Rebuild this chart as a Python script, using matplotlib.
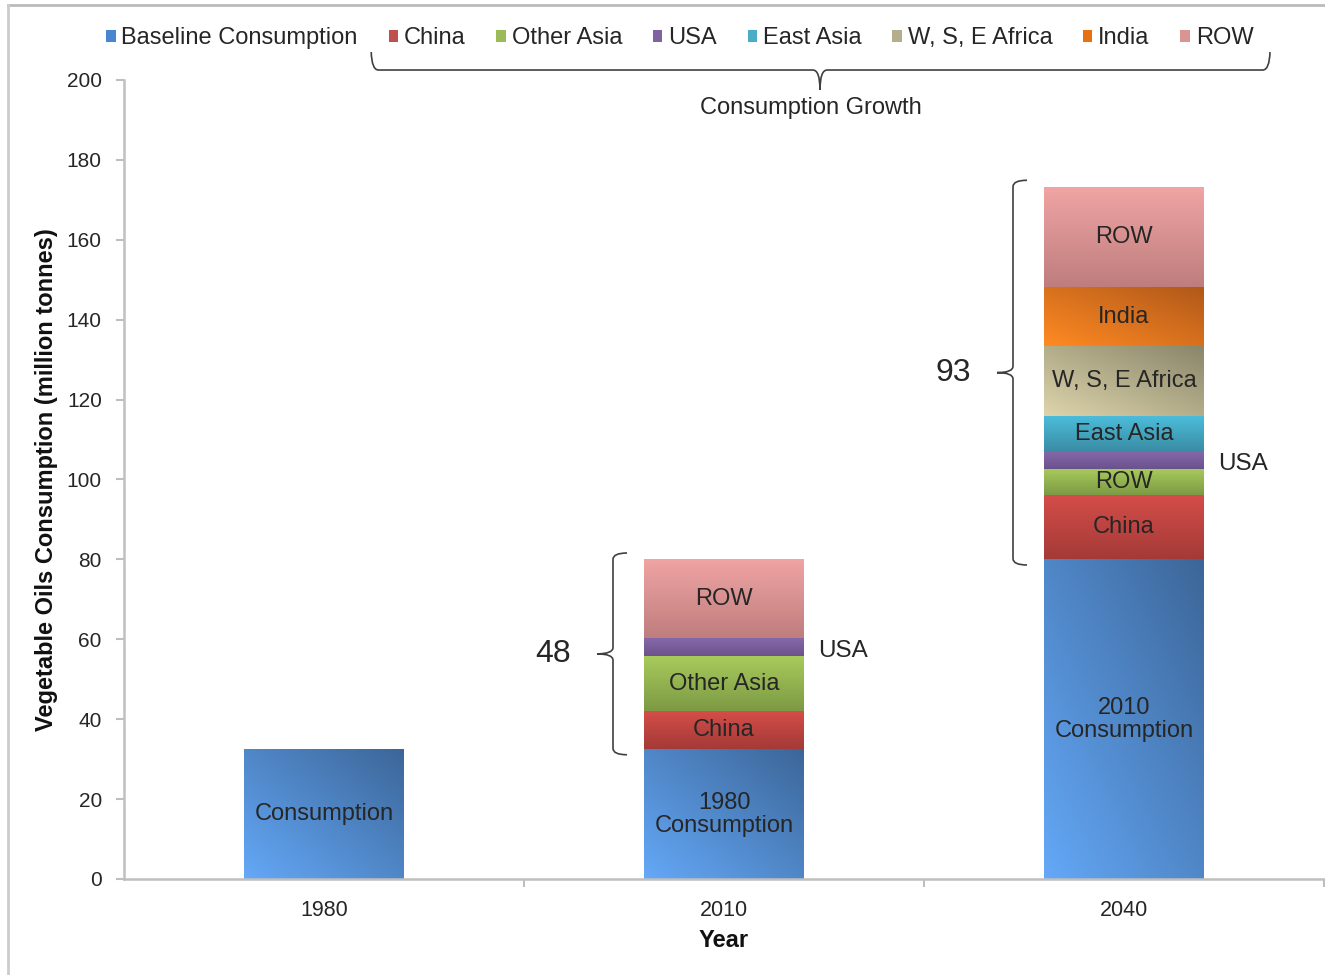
import numpy as np
import matplotlib
matplotlib.use("Agg")
import matplotlib.pyplot as plt
from matplotlib.patches import Patch
from matplotlib.path import Path
from matplotlib.patches import PathPatch
from matplotlib.lines import Line2D

plt.rcParams['font.family'] = ['Liberation Sans', 'DejaVu Sans']

# ---- data (million tonnes) ----
years = ['1980', '2010', '2040']
baseline = [32.5, 32.5, 80.0]
china = [0.0, 9.5, 16.0]
other_asia = [0.0, 13.8, 6.7]
usa = [0.0, 4.5, 4.3]
east_asia = [0.0, 0.0, 9.0]
africa = [0.0, 0.0, 17.3]
india = [0.0, 0.0, 15.0]
row = [0.0, 19.7, 25.0]

series_names = ['Baseline Consumption', 'China', 'Other Asia', 'USA', 'East Asia',
                'W, S, E Africa', 'India', 'ROW']
series_values = [baseline, china, other_asia, usa, east_asia, africa, india, row]

# in-bar labels per series and year ('' = none)
baseline_labels = ['Consumption', '1980\nConsumption', '2010\nConsumption']
china_labels = ['', 'China', 'China']
other_asia_labels = ['', 'Other Asia', 'ROW']
usa_labels = ['', '', '']
east_asia_labels = ['', '', 'East Asia']
africa_labels = ['', '', 'W, S, E Africa']
india_labels = ['', '', 'India']
row_labels = ['', 'ROW', 'ROW']
series_labels = [baseline_labels, china_labels, other_asia_labels, usa_labels,
                 east_asia_labels, africa_labels, india_labels, row_labels]

# ---- styles: (light, dark, gradient mode), legend colour ----
styles = [
    ('#64A8F7', '#3C6698', 'diag'),
    ('#D44D49', '#A43A37', 'vert'),
    ('#A8CB5C', '#7D9A44', 'vert'),
    ('#8668AA', '#6B528C', 'vert'),
    ('#4CBCDA', '#3A8BA3', 'vert'),
    ('#DDD4AB', '#8A866A', 'diag'),
    ('#FF8A22', '#B0581A', 'diag'),
    ('#F0A4A4', '#BF7D7D', 'vert'),
]
legend_colors = ['#4A86D0', '#C0504D', '#9BBB59', '#8064A2', '#4BACC6',
                 '#B4AE8C', '#E8700F', '#D99594']

TEXT = '#262626'
GRID = '#BFBFBF'
LABEL_SIZE = 17


def hex_rgb(h):
    h = h.lstrip('#')
    return np.array([int(h[i:i + 2], 16) / 255 for i in (0, 2, 4)])


def gradient_fill(ax, patch, light, dark, mode):
    x, y = patch.get_x(), patch.get_y()
    w, h = patch.get_width(), patch.get_height()
    if h <= 0:
        return
    n = 80
    u = np.linspace(0, 1, n)
    U, V = np.meshgrid(u, u)
    if mode == 'diag':
        t = (U + V) / 2.0
    else:
        t = 1.0 - V
    lo, hi = hex_rgb(light), hex_rgb(dark)
    img = lo[None, None, :] * (1 - t[..., None]) + hi[None, None, :] * t[..., None]
    im = ax.imshow(img, extent=[x, x + w, y, y + h], origin='lower', aspect='auto',
                   interpolation='bilinear', zorder=patch.get_zorder() + 0.1)
    im.set_clip_path(patch)


def vbrace(ax, xs, y_bot, y_top, hook=0.035, tip=0.04, r=1.6, color='#404040'):
    ym = (y_bot + y_top) / 2.0
    verts = [
        (xs + hook, y_top), (xs, y_top), (xs, y_top - r),
        (xs, ym + r), (xs, ym), (xs - tip, ym),
        (xs, ym), (xs, ym - r),
        (xs, y_bot + r), (xs, y_bot), (xs + hook, y_bot),
    ]
    codes = [Path.MOVETO, Path.CURVE3, Path.CURVE3,
             Path.LINETO, Path.CURVE3, Path.CURVE3,
             Path.CURVE3, Path.CURVE3,
             Path.LINETO, Path.CURVE3, Path.CURVE3]
    ax.add_patch(PathPatch(Path(verts, codes), fill=False, edgecolor=color,
                           lw=1.2, zorder=5, clip_on=False))


fig = plt.figure(figsize=(13.25, 9.75), dpi=100)
ax = fig.add_axes([124 / 1325, 96 / 975, 1200 / 1325, 799 / 975])

x = np.arange(len(years))
bar_w = 0.4
bottoms = np.zeros(len(years))
bar_sets = []
for vals, (light, dark, mode) in zip(series_values, styles):
    vals = np.asarray(vals)
    bars = ax.bar(x, vals, bar_w, bottom=bottoms, color=light, linewidth=0, zorder=2)
    for b in bars:
        gradient_fill(ax, b, light, dark, mode)
    bar_sets.append((vals, bottoms.copy()))
    bottoms = bottoms + vals

# segment labels
for (vals, bots), labels in zip(bar_sets, series_labels):
    for i, (v, b, lab) in enumerate(zip(vals, bots, labels)):
        if lab and v > 0:
            ax.text(x[i], b + v / 2.0, lab, ha='center', va='center',
                    fontsize=LABEL_SIZE, color=TEXT, zorder=6, linespacing=1.05)

# USA labels beside the bars
usa_vals, usa_bots = bar_sets[3]
for i, (v, b) in enumerate(zip(usa_vals, usa_bots)):
    if v > 0:
        ax.text(x[i] + bar_w / 2 + 0.035, b + v / 2.0 - 1.0, 'USA', ha='left',
                va='center', fontsize=17.5, color=TEXT, zorder=6)

# growth braces with totals
totals = bottoms
base = np.asarray(baseline)
for i in range(len(years)):
    growth = totals[i] - base[i]
    if growth <= 0:
        continue
    xs = x[i] - bar_w / 2 - 0.0775
    y_top, y_bot = totals[i] + 1.6, base[i] - 1.4
    vbrace(ax, xs, y_bot, y_top)
    ax.text(xs - 0.15, (y_top + y_bot) / 2.0, f'{int(np.floor(growth + 0.5))}',
            ha='center', va='center', fontsize=23, color=TEXT)

# axes styling
ax.set_xlim(-0.5, 2.5)
ax.set_ylim(0, 200)
ax.set_yticks(np.arange(0, 201, 20))
ax.set_xticks(x)
ax.set_xticklabels(years)
ax.set_xticks([0.5, 1.5, 2.5], minor=True)
ax.tick_params(axis='x', which='major', length=0, pad=15, labelsize=15.5, labelcolor=TEXT)
ax.tick_params(axis='x', which='minor', length=6, color=GRID, width=1.5)
ax.tick_params(axis='y', length=6, color=GRID, width=1.5, pad=10, labelsize=15,
               labelcolor=TEXT)
for side in ('top', 'right'):
    ax.spines[side].set_visible(False)
for side in ('left', 'bottom'):
    ax.spines[side].set_color(GRID)
    ax.spines[side].set_linewidth(1.8)
ax.set_xlabel('Year', fontsize=17, fontweight='bold', color='#111111', labelpad=6)
ax.set_ylabel('Vegetable Oils Consumption (million tonnes)', fontsize=17,
              fontweight='bold', color='#111111')
ax.yaxis.set_label_coords(-0.055, 0.5)

# legend
handles = [Patch(facecolor=c, edgecolor='none') for c in legend_colors]
fig.legend(handles, series_names, loc='center', bbox_to_anchor=(0.513, 0.961),
           ncol=8, frameon=False, fontsize=17, handlelength=0.4, handleheight=0.4,
           handletextpad=0.25, columnspacing=1.3, labelcolor=TEXT)

# brace over the growth entries of the legend
bx0, bx1, bxm = 0.206, 0.955, 0.58
by, bend, btip = 1.0125, 1.035, 0.9875
rr = 0.006
top_verts = [
    (bx0, bend), (bx0 + 0.0005, by), (bx0 + rr, by),
    (bxm - rr, by), (bxm, by), (bxm, btip),
    (bxm, by), (bxm + rr, by),
    (bx1 - rr, by), (bx1 - 0.0005, by), (bx1, bend),
]
top_codes = [Path.MOVETO, Path.CURVE3, Path.CURVE3,
             Path.LINETO, Path.CURVE3, Path.CURVE3,
             Path.CURVE3, Path.CURVE3,
             Path.LINETO, Path.CURVE3, Path.CURVE3]
ax.add_patch(PathPatch(Path(top_verts, top_codes), fill=False, edgecolor='#404040',
                       lw=1.2, transform=ax.transAxes, clip_on=False, zorder=5))
ax.text(0.5725, 0.9655, 'Consumption Growth', transform=ax.transAxes, ha='center',
        va='center', fontsize=17, color=TEXT)

# outer chart-area frame
fig.add_artist(Line2D([8 / 1325, 1.0], [1 - 5 / 975, 1 - 5 / 975],
                      transform=fig.transFigure, color='#BBBBBB', lw=2))
fig.add_artist(Line2D([8 / 1325, 8 / 1325], [0.0, 1 - 5 / 975],
                      transform=fig.transFigure, color='#CCCCCC', lw=2))

fig.savefig('out.png', dpi=100, facecolor='white')
